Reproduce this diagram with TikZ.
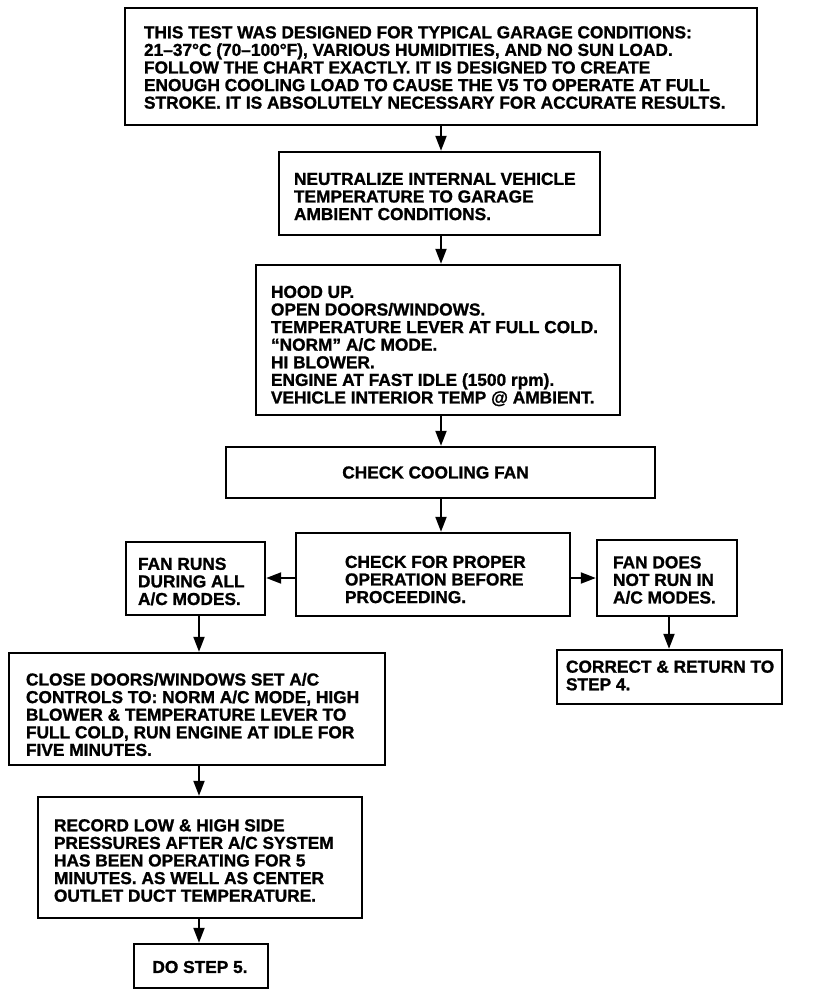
\documentclass[tikz,border=0pt]{standalone}
\usepackage{fontspec}
\setmainfont{Liberation Sans}[BoldFeatures={FakeBold=1.2}]
\usetikzlibrary{arrows.meta,calc}
\begin{document}
\begin{tikzpicture}[x=1pt,y=-1pt,
  box/.style={draw, line width=2.4pt, inner sep=0pt},
  txt/.style={font=\fontsize{17.3}{17.6}\selectfont\bfseries, align=left, inner sep=0pt, anchor=west},
  ctxt/.style={font=\fontsize{17.3}{17.6}\selectfont\bfseries, align=center, inner sep=0pt},
  arr/.style={line width=2pt, -{Triangle[width=11pt,length=15pt]}}]
\useasboundingbox (0,0) rectangle (832,998);
\fill[white] (0,0) rectangle (832,998);

\node[box, minimum width=632pt, minimum height=117pt] (top) at (441,66.5) {};
\node[box, minimum width=321pt, minimum height=83pt] (b2) at (439.5,193.5) {};
\node[box, minimum width=364pt, minimum height=150pt] (b3) at (438,340) {};
\node[box, minimum width=429pt, minimum height=51pt] (b4) at (440.5,472.5) {};
\node[box, minimum width=274pt, minimum height=83pt] (ctr) at (433,574.5) {};
\node[box, minimum width=139pt, minimum height=73pt] (lft) at (195.5,578.5) {};
\node[box, minimum width=140pt, minimum height=76pt] (rgt) at (667,578) {};
\node[box, minimum width=225pt, minimum height=54pt] (cor) at (669.5,677) {};
\node[box, minimum width=376pt, minimum height=112pt] (cls) at (197,709) {};
\node[box, minimum width=324pt, minimum height=121pt] (rec) at (200,857.5) {};
\node[box, minimum width=134pt, minimum height=44pt] (st5) at (201,966) {};

\node[txt] (top-t) at ($(top.west)+(20,1)$) {THIS TEST WAS DESIGNED FOR TYPICAL GARAGE CONDITIONS:\\21–37°C (70–100°F), VARIOUS HUMIDITIES, AND NO SUN LOAD.\\FOLLOW THE CHART EXACTLY. IT IS DESIGNED TO CREATE\\ENOUGH COOLING LOAD TO CAUSE THE V5 TO OPERATE AT FULL\\STROKE. IT IS ABSOLUTELY NECESSARY FOR ACCURATE RESULTS.};
\node[txt] (b2-t) at ($(b2.west)+(16,3)$) {NEUTRALIZE INTERNAL VEHICLE\\TEMPERATURE TO GARAGE\\AMBIENT CONDITIONS.};
\node[txt] (b3-t) at ($(b3.west)+(16,6)$) {HOOD UP.\\OPEN DOORS/WINDOWS.\\TEMPERATURE LEVER AT FULL COLD.\\“NORM” A/C MODE.\\HI BLOWER.\\ENGINE AT FAST IDLE (1500 rpm).\\VEHICLE INTERIOR TEMP @ AMBIENT.};
\node[ctxt] (b4-t) at ($(b4.center)+(-5,0)$) {CHECK COOLING FAN};
\node[txt] (ctr-t) at ($(ctr.west)+(50,5)$) {CHECK FOR PROPER\\OPERATION BEFORE\\PROCEEDING.};
\node[txt] (lft-t) at ($(lft.west)+(13,3)$) {FAN RUNS\\DURING ALL\\A/C MODES.};
\node[txt] (rgt-t) at ($(rgt.west)+(17,2)$) {FAN DOES\\NOT RUN IN\\A/C MODES.};
\node[txt] (cor-t) at ($(cor.west)+(10,-1.5)$) {CORRECT \& RETURN TO\\STEP 4.};
\node[txt] (cls-t) at ($(cls.west)+(18,5.5)$) {CLOSE DOORS/WINDOWS SET A/C\\CONTROLS TO: NORM A/C MODE, HIGH\\BLOWER \& TEMPERATURE LEVER TO\\FULL COLD, RUN ENGINE AT IDLE FOR\\FIVE MINUTES.};
\node[txt] (rec-t) at ($(rec.west)+(17,3)$) {RECORD LOW \& HIGH SIDE\\PRESSURES AFTER A/C SYSTEM\\HAS BEEN OPERATING FOR 5\\MINUTES. AS WELL AS CENTER\\OUTLET DUCT TEMPERATURE.};
\node[ctxt] (st5-t) at ($(st5.center)+(-1,1)$) {DO STEP 5.};

\coordinate (xm) at (441,0);
\coordinate (xl) at (199,0);
\coordinate (xr) at (669,0);
\coordinate (ym) at (0,578);

\draw[arr] (top.south -| xm) -- (b2.north -| xm);
\draw[arr] (b2.south -| xm) -- (b3.north -| xm);
\draw[arr] (b3.south -| xm) -- (b4.north -| xm);
\draw[arr] (b4.south -| xm) -- (ctr.north -| xm);
\draw[arr] (ctr.west |- ym) -- (lft.east |- ym);
\draw[arr] (ctr.east |- ym) -- (rgt.west |- ym);
\draw[arr] (lft.south -| xl) -- (cls.north -| xl);
\draw[arr] (rgt.south -| xr) -- (cor.north -| xr);
\draw[arr] (cls.south -| xl) -- (rec.north -| xl);
\draw[arr] (rec.south -| xl) -- (st5.north -| xl);
\end{tikzpicture}
\end{document}
